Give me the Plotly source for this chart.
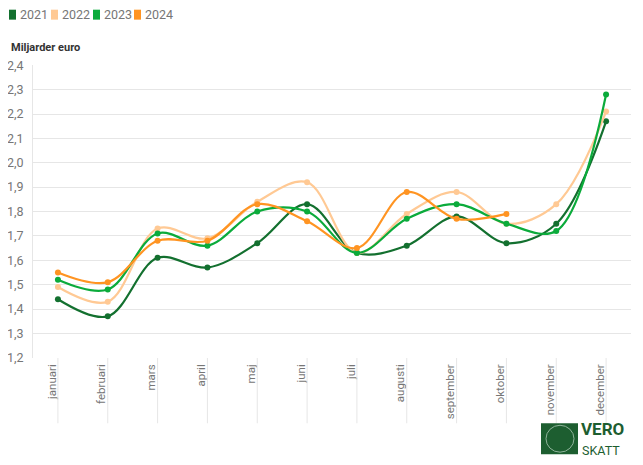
import plotly.graph_objects as go

months = ["januari", "februari", "mars", "april", "maj", "juni", "juli",
          "augusti", "september", "oktober", "november", "december"]
years = ["2021", "2022", "2023", "2024"]
v2021 = [1.44, 1.37, 1.61, 1.57, 1.67, 1.83, 1.63, 1.66, 1.78, 1.67, 1.75, 2.17]
v2022 = [1.49, 1.43, 1.73, 1.69, 1.84, 1.92, 1.63, 1.79, 1.88, 1.75, 1.83, 2.21]
v2023 = [1.52, 1.48, 1.71, 1.66, 1.80, 1.80, 1.63, 1.77, 1.83, 1.75, 1.72, 2.28]
v2024 = [1.55, 1.51, 1.68, 1.68, 1.83, 1.76, 1.65, 1.88, 1.77, 1.79]
y_ticks = [1.2, 1.3, 1.4, 1.5, 1.6, 1.7, 1.8, 1.9, 2.0, 2.1, 2.2, 2.3, 2.4]
unit_label = "Miljarder euro"

series = [v2021, v2022, v2023, v2024]
colors = ["#13702f", "#ffc994", "#0bab3b", "#ff9422"]

# page is shown with an 8px body margin; size the figure to fit the window
OFF = 8
W, H = 643 - OFF, 465 - OFF
# plot area in page pixels: x 33..631, y 64.5..358.5
L = 33 - OFF
R = W - (631 - OFF)
T = 64.5 - OFF
B = H - (358.5 - OFF)
PW, PH = W - L - R, H - T - B


def px(x):
    """page pixel x -> paper coordinate"""
    return (x - OFF - L) / PW


def py(y):
    """page pixel y -> paper coordinate"""
    return (H - B - (y - OFF)) / PH


fig = go.Figure()
for name, vals, col in zip(years, series, colors):
    fig.add_trace(go.Scatter(
        x=months[:len(vals)], y=vals, name=name, mode="lines+markers",
        line=dict(color=col, width=2.2, shape="spline", smoothing=1),
        marker=dict(color=col, size=6), showlegend=False,
    ))

shapes = []
annotations = []

# tick lines below the x axis at category positions
for m in months:
    shapes.append(dict(type="line", xref="x", yref="paper", x0=m, x1=m,
                       y0=0, y1=py(424), line=dict(color="#e6e6e6", width=1)))

# custom legend
lx = [9, 51, 93, 134]
for name, col, x0 in zip(years, colors, lx):
    shapes.append(dict(type="rect", xref="paper", yref="paper",
                       x0=px(x0), x1=px(x0 + 7), y0=py(19), y1=py(9),
                       fillcolor=col, line=dict(width=0), layer="above"))
    annotations.append(dict(text=name, xref="paper", yref="paper",
                            x=px(x0 + 9), y=py(14), xanchor="left", yanchor="middle",
                            showarrow=False,
                            font=dict(family="Roboto", size=12.5, color="#767676")))

annotations.append(dict(text="<b>" + unit_label + "</b>", xref="paper", yref="paper",
                        x=px(9), y=py(47), xanchor="left", yanchor="middle",
                        showarrow=False,
                        font=dict(family="Roboto", size=11, color="#333333")))

# logo
shapes.append(dict(type="rect", xref="paper", yref="paper",
                   x0=px(541), x1=px(578), y0=py(455), y1=py(424),
                   fillcolor="#1d5e30", line=dict(width=0), layer="above"))
shapes.append(dict(type="circle", xref="paper", yref="paper",
                   x0=px(546), x1=px(574), y0=py(453), y1=py(426),
                   fillcolor="rgba(0,0,0,0)", line=dict(color="#8fb39a", width=1),
                   layer="above"))
annotations.append(dict(text="<b>VERO</b>", xref="paper", yref="paper",
                        x=px(579), y=py(430), xanchor="left", yanchor="middle",
                        showarrow=False,
                        font=dict(family="Roboto", size=17, color="#1d5e30")))
annotations.append(dict(text="SKATT", xref="paper", yref="paper",
                        x=px(580), y=py(451), xanchor="left", yanchor="middle",
                        showarrow=False,
                        font=dict(family="Roboto", size=12.5, color="#1d5e30")))

fig.update_layout(
    width=W, height=H, autosize=False,
    margin=dict(l=L, r=R, t=T, b=B, autoexpand=False),
    paper_bgcolor="white", plot_bgcolor="white",
    separators=", ",
    showlegend=False,
    shapes=shapes, annotations=annotations,
    xaxis=dict(type="category", range=[-0.5, 11.5], tickangle=-90,
               automargin=False, ticklabelshift=-6, ticklabelstandoff=3,
               showgrid=False, zeroline=False, showline=False, ticks="",
               tickfont=dict(family="Roboto", size=11.5, color="#767676")),
    yaxis=dict(range=[1.199, 2.401], tickvals=y_ticks, tickformat=".1f",
               automargin=False,
               showgrid=True, gridcolor="#e6e6e6", gridwidth=1,
               showline=True, linecolor="#e6e6e6", linewidth=1,
               zeroline=False, ticks="", ticklabelstandoff=6,
               tickfont=dict(family="Roboto", size=12.5, color="#767676")),
)

fig.write_html("out.html")
